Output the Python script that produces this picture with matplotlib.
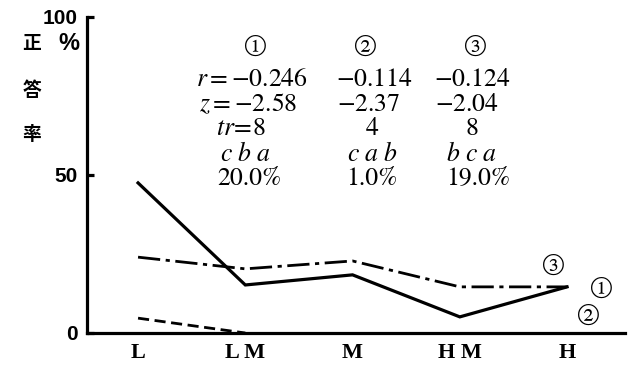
import matplotlib
matplotlib.use('Agg')
import matplotlib.pyplot as plt

# data
groups = ['L', 'L M', 'M', 'H M', 'H']
item1 = [47.5, 15.2, 18.4, 5.1, 14.6]
item2 = [4.7, 0.0]
item3 = [24.0, 20.3, 22.8, 14.6, 14.6]

col_heads = ['①', '②', '③']
r_vals = ['$r = -0.246$', '$-0.114$', '$-0.124$']
z_vals = ['$z = -2.58$', '$-2.37$', '$-2.04$']
tr_vals = ['$tr\\!=\\!8$', '$4$', '$8$']
orders = ['$c\\ b\\ a$', '$c\\ a\\ b$', '$b\\ c\\ a$']
pcts = ['20.0%', '1.0%', '19.0%']

plt.rcParams['mathtext.fontset'] = 'stix'
serif = ['STIXGeneral', 'Noto Sans CJK JP']

W, H = 629, 371
fig = plt.figure(figsize=(W / 100, H / 100), dpi=100)
ax = fig.add_axes([87 / W, 1 - 333 / H, (625 - 87) / W, (333 - 17) / H])

x = list(range(len(groups)))
ax.plot(x, item1, color='black', lw=2.3, solid_joinstyle='miter')
ax.plot(x[:len(item2)], item2, color='black', lw=2.0, dashes=(4, 2))
ax.plot(x, item3, color='black', lw=2.0, dashes=(8, 2, 1.5, 2))

ax.set_xlim(-0.476, 4.54)
ax.set_ylim(0, 100)
ax.spines['top'].set_visible(False)
ax.spines['right'].set_visible(False)
ax.spines['left'].set_linewidth(2.3)
ax.spines['bottom'].set_linewidth(2.3)
ax.set_xticks(x)
ax.set_xticklabels(groups, family='Liberation Serif', fontweight='bold', fontsize=16)
ax.tick_params(axis='x', length=0, pad=7)
ax.set_yticks([0, 50, 100])
ax.set_yticklabels(['0', '50', '100'], family='Liberation Sans',
                   fontweight='bold', fontsize=15)
ax.tick_params(axis='y', direction='in', length=5, width=2.3, pad=7)

# y label
for ch, yy in zip('正答率', [44, 91, 135]):
    fig.text(32 / W, 1 - yy / H, ch, family='Noto Sans CJK JP', fontweight='bold',
             fontsize=13.5, ha='center', va='center')
fig.text(69 / W, 1 - 44 / H, '%', family='Liberation Sans', fontweight='bold',
         fontsize=17, ha='center', va='center')

# statistics columns
cols = [
    [255, 252, 248, 241, 245, 249],
    [365, 374, 369, 372, 372, 372],
    [475, 472, 467, 472, 471, 478],
]
rows_y = [49, 80, 105, 129, 155, 179]
for i, cx in enumerate(cols):
    texts = [r_vals[i], z_vals[i], tr_vals[i], orders[i], pcts[i]]
    for t, px, py in zip(texts, cx[1:], rows_y[1:]):
        fig.text(px / W, 1 - py / H, t, family=serif, fontsize=18.5,
                 ha='center', va='center')
    fig.text(cx[0] / W, 1 - rows_y[0] / H, col_heads[i], family=serif, fontsize=22,
             ha='center', va='center')

# end labels
for t, px, py in [('③', 553, 268), ('①', 601, 291), ('②', 588, 318)]:
    fig.text(px / W, 1 - py / H, t, family=serif, fontsize=22, ha='center', va='center')

fig.savefig('out.png', dpi=100)
